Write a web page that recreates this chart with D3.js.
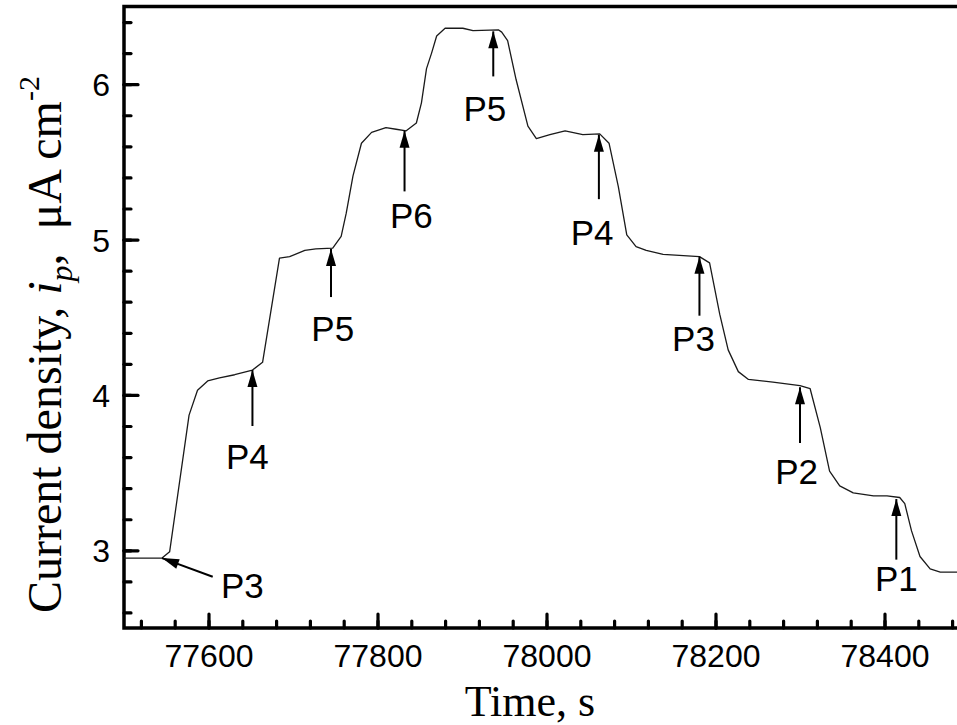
<!DOCTYPE html>
<html>
<head>
<meta charset="utf-8">
<title>Current density vs time</title>
<script src="https://d3js.org/d3.v7.min.js"></script>
<style>
  body { margin: 0; background: #fff; }
  svg { display: block; background: #fff; }
</style>
</head>
<body>
<script>
// curve (time in s, current density in uA cm-2)
var time = [77500, 77545, 77554, 77577, 77587, 77599, 77613, 77631, 77652, 77664,
            77684, 77696, 77714, 77727, 77747, 77757, 77763, 77771, 77781, 77793,
            77810, 77822, 77834, 77846, 77852, 77858, 77864, 77870, 77880, 77901,
            77913, 77943, 77947, 77954, 77964, 77978, 77988, 78004, 78022, 78043,
            78063, 78074, 78085, 78095, 78106, 78118, 78138, 78162, 78181, 78193,
            78205, 78215, 78227, 78239, 78268, 78300, 78312, 78324, 78335, 78347,
            78363, 78387, 78403, 78418, 78424, 78432, 78442, 78454, 78466, 78500];
var current = [2.95, 2.95, 2.99, 3.87, 4.03, 4.09, 4.11, 4.13, 4.16, 4.21,
               4.88, 4.89, 4.93, 4.94, 4.945, 5.02, 5.17, 5.41, 5.62, 5.69,
               5.72, 5.71, 5.70, 5.75, 5.88, 6.10, 6.20, 6.31, 6.36, 6.36,
               6.345, 6.35, 6.335, 6.28, 6.03, 5.73, 5.65, 5.675, 5.70, 5.675,
               5.68, 5.62, 5.34, 5.03, 4.955, 4.93, 4.905, 4.897, 4.89, 4.85,
               4.52, 4.29, 4.15, 4.10, 4.083, 4.06, 4.04, 3.79, 3.51, 3.415,
               3.37, 3.35, 3.35, 3.34, 3.30, 3.125, 2.96, 2.88, 2.86, 2.86];

// arrows and their labels
var annText  = ["P3", "P4", "P5", "P6", "P5", "P4", "P3", "P2", "P1"];
var tailTime = [77605, 77652, 77745, 77832, 77937, 78062, 78181, 78300, 78414];
var tailVal  = [2.83, 3.80, 4.63, 5.31, 6.05, 5.26, 4.51, 3.69, 2.94];
var tipTime  = [77545, 77652, 77745, 77832, 77937, 78062, 78181, 78300, 78414];
var tipVal   = [2.95, 4.16, 4.94, 5.70, 6.34, 5.675, 4.89, 4.05, 3.33];
var labTime  = [77640, 77646, 77747, 77840, 77927, 78054, 78174, 78296, 78414];
var labVal   = [2.69, 3.525, 4.35, 5.075, 5.76, 4.965, 4.285, 3.43, 2.735];

var xMajor = [77600, 77800, 78000, 78200, 78400];
var xMinor = d3.range(77520, 78500, 40);
var yMajor = [3, 4, 5, 6];
var yMinor = d3.range(2.6, 6.5, 0.2);

var W = 957, H = 725;
var plotL = 124, plotT = 6.5, plotR = 969, plotB = 628;

var svg = d3.select("body").append("svg")
    .attr("width", W)
    .attr("height", H);

var x = d3.scaleLinear().domain([77500, 78500]).range([plotL, plotR]);
var y = d3.scaleLinear().domain([2.5, 6.5]).range([plotB, plotT]);

var sans = "'Liberation Sans', Arial, sans-serif";
var serif = "'Liberation Serif', 'Times New Roman', serif";

// minor ticks
svg.append("g")
    .attr("transform", "translate(0," + plotB + ")")
    .call(d3.axisBottom(x).tickValues(xMinor).tickSize(-7).tickFormat(""))
    .call(g => g.select(".domain").remove());
svg.append("g")
    .attr("transform", "translate(" + plotL + ",0)")
    .call(d3.axisLeft(y).tickValues(yMinor).tickSize(-7).tickFormat(""))
    .call(g => g.select(".domain").remove());

// major ticks with labels
var xAx = svg.append("g")
    .attr("transform", "translate(0," + plotB + ")")
    .call(d3.axisBottom(x).tickValues(xMajor).tickSize(-14).tickFormat(d3.format("d")))
    .call(g => g.select(".domain").remove());
xAx.selectAll("text")
    .attr("y", 39)
    .attr("dy", 0)
    .attr("font-family", sans)
    .attr("font-size", 32)
    .attr("fill", "#000");

var yAx = svg.append("g")
    .attr("transform", "translate(" + plotL + ",0)")
    .call(d3.axisLeft(y).tickValues(yMajor).tickSize(-14).tickFormat(d3.format("d")))
    .call(g => g.select(".domain").remove());
yAx.selectAll("text")
    .attr("x", -14)
    .attr("dy", "0.36em")
    .attr("font-family", sans)
    .attr("font-size", 32)
    .attr("fill", "#000");

svg.selectAll(".tick line")
    .attr("stroke", "#000")
    .attr("stroke-width", 3.2)
    .attr("stroke-linecap", "round");

// frame
svg.append("rect")
    .attr("x", plotL)
    .attr("y", plotT)
    .attr("width", plotR - plotL)
    .attr("height", plotB - plotT)
    .attr("fill", "none")
    .attr("stroke", "#000")
    .attr("stroke-width", 3.5);

// curve
var line = d3.line()
    .x((d, i) => x(time[i]))
    .y(d => y(d));

svg.append("path")
    .datum(current)
    .attr("d", line)
    .attr("fill", "none")
    .attr("stroke", "#1a1a1a")
    .attr("stroke-width", 1.3)
    .attr("stroke-linejoin", "round");

// arrows
svg.append("defs").append("marker")
    .attr("id", "head")
    .attr("markerUnits", "userSpaceOnUse")
    .attr("viewBox", "-18 -6 20 12")
    .attr("refX", 0)
    .attr("refY", 0)
    .attr("markerWidth", 20)
    .attr("markerHeight", 12)
    .attr("orient", "auto")
  .append("path")
    .attr("d", "M0,0L-17,-5L-17,5Z")
    .attr("fill", "#000");

svg.selectAll(".arrow")
    .data(annText)
    .enter()
    .append("line")
    .attr("class", "arrow")
    .attr("x1", (d, i) => x(tailTime[i]))
    .attr("y1", (d, i) => y(tailVal[i]))
    .attr("x2", (d, i) => x(tipTime[i]))
    .attr("y2", (d, i) => y(tipVal[i]))
    .attr("stroke", "#000")
    .attr("stroke-width", 2)
    .attr("marker-end", "url(#head)");

svg.selectAll(".ann")
    .data(annText)
    .enter()
    .append("text")
    .attr("class", "ann")
    .attr("x", (d, i) => x(labTime[i]))
    .attr("y", (d, i) => y(labVal[i]))
    .attr("text-anchor", "middle")
    .attr("font-family", sans)
    .attr("font-size", 35)
    .attr("fill", "#000")
    .text(d => d);

// axis titles
svg.append("text")
    .attr("x", 530)
    .attr("y", 716)
    .attr("text-anchor", "middle")
    .attr("font-family", serif)
    .attr("font-size", 44)
    .text("Time, s");

var yt = svg.append("text")
    .attr("transform", "translate(61,613) rotate(-90)")
    .attr("text-anchor", "start")
    .attr("font-family", serif)
    .attr("font-size", 48)
    .style("white-space", "pre");
yt.append("tspan").text("Current density, ");
yt.append("tspan").attr("font-style", "italic").text("i");
yt.append("tspan").attr("font-style", "italic").attr("font-size", 32).attr("dy", 11).text("p");
yt.append("tspan").attr("dy", -11).text(",  \u03bcA cm");
yt.append("tspan").attr("font-size", 30).attr("dy", -22).text("-2");
</script>
</body>
</html>
